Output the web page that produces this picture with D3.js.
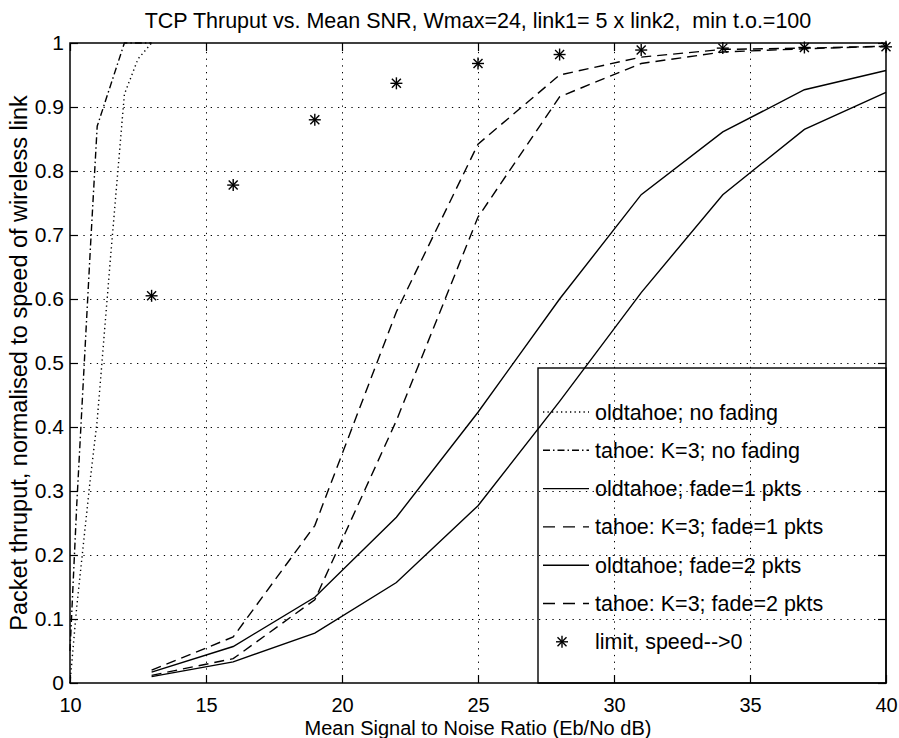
<!DOCTYPE html>
<html>
<head>
<meta charset="utf-8">
<script src="https://cdn.jsdelivr.net/npm/d3@7"></script>
<style>
  body { margin: 0; background: #fff; }
  svg { font-family: "Liberation Sans", Arial, Helvetica, sans-serif; }
  .grid line { stroke: #000; stroke-width: 1; stroke-dasharray: 1.3, 5.4; }
  .grid path { display: none; }
  .axis path { display: none; }
  .axis line { stroke: #000; stroke-width: 1.2; }
  .axis text { fill: #000; }
  .curve { fill: none; stroke: #000; stroke-width: 1.4; }
</style>
</head>
<body>
<svg class="chart" width="899" height="738"></svg>
<script>
// SNR points (Eb/No dB)
var snrFine = [10, 10.25, 10.5, 10.75, 11, 11.5, 12, 12.5, 13];
var snrCoarse = [13, 16, 19, 22, 25, 28, 31, 34, 37, 40];

// no fading (read on snrFine)
var oldtahoeNoFade = [0.0, 0.12, 0.22, 0.32, 0.41, 0.67, 0.92, 0.975, 1.0];
var tahoeNoFade = [0.05, 0.28, 0.48, 0.68, 0.87, 0.935, 1.0, 1.0, 1.0];

// fading (read on snrCoarse)
var oldtahoeFade1 = [0.017, 0.057, 0.134, 0.259, 0.423, 0.6, 0.763, 0.861, 0.927, 0.957];
var tahoeFade1 = [0.02, 0.072, 0.246, 0.58, 0.842, 0.95, 0.978, 0.99, 0.992, 0.995];
var oldtahoeFade2 = [0.01, 0.033, 0.078, 0.157, 0.277, 0.44, 0.61, 0.763, 0.865, 0.923];
var tahoeFade2 = [0.012, 0.038, 0.13, 0.41, 0.728, 0.916, 0.968, 0.986, 0.991, 0.995];
var limitSpeed0 = [0.605, 0.778, 0.88, 0.937, 0.968, 0.982, 0.989, 0.992, 0.993, 0.994];

var xTicks = [10, 15, 20, 25, 30, 35, 40];
var yTicks = [0, 0.1, 0.2, 0.3, 0.4, 0.5, 0.6, 0.7, 0.8, 0.9, 1];
var yTickLabels = ["0", "0.1", "0.2", "0.3", "0.4", "0.5", "0.6", "0.7", "0.8", "0.9", "1"];

var legendLabels = [
  "oldtahoe; no fading",
  "tahoe: K=3; no fading",
  "oldtahoe; fade=1 pkts",
  "tahoe: K=3; fade=1 pkts",
  "oldtahoe; fade=2 pkts",
  "tahoe: K=3; fade=2 pkts",
  "limit, speed-->0"
];

var svg = d3.select(".chart"),
  margin = { top: 43, right: 13, bottom: 55, left: 70 },
  width = +svg.attr("width") - margin.left - margin.right,
  height = +svg.attr("height") - margin.top - margin.bottom,
  g = svg
    .append("g")
    .attr("transform", "translate(" + margin.left + "," + margin.top + ")");

var x = d3.scaleLinear().domain([10, 40]).range([0, width]);
var y = d3.scaleLinear().domain([0, 1]).range([height, 0]);

// line styles: dotted, dash-dot, solid, dashed, solid, dashed
var series = [
  { xs: snrFine, ys: oldtahoeNoFade, dash: "1.3,3.2" },
  { xs: snrFine, ys: tahoeNoFade, dash: "7,3,1.5,3" },
  { xs: snrCoarse, ys: oldtahoeFade1, dash: null },
  { xs: snrCoarse, ys: tahoeFade1, dash: "10,6" },
  { xs: snrCoarse, ys: oldtahoeFade2, dash: null },
  { xs: snrCoarse, ys: tahoeFade2, dash: "10,6" }
];

// grid
g.append("g")
  .attr("class", "grid")
  .attr("transform", "translate(0," + height + ")")
  .call(d3.axisBottom(x).tickValues(xTicks.slice(1, -1)).tickSize(-height).tickFormat(""));

g.append("g")
  .attr("class", "grid")
  .call(d3.axisLeft(y).tickValues(yTicks.slice(1, -1)).tickSize(-width).tickFormat(""));

// curves
var line = d3.line()
  .x(function (d) { return x(d[0]); })
  .y(function (d) { return y(d[1]); });

g.append("g")
  .selectAll("path")
  .data(series)
  .enter()
  .append("path")
  .attr("class", "curve")
  .attr("stroke-dasharray", function (d) { return d.dash; })
  .attr("d", function (d) { return line(d3.zip(d.xs, d.ys)); });

// asterisk markers
function asterisk(sel, r) {
  sel.append("line").attr("x1", -r).attr("x2", r).attr("y1", 0).attr("y2", 0);
  sel.append("line").attr("x1", 0).attr("x2", 0).attr("y1", -r).attr("y2", r);
  sel.append("line").attr("x1", -r * 0.75).attr("x2", r * 0.75).attr("y1", -r * 0.75).attr("y2", r * 0.75);
  sel.append("line").attr("x1", -r * 0.75).attr("x2", r * 0.75).attr("y1", r * 0.75).attr("y2", -r * 0.75);
}

g.append("g")
  .attr("stroke", "#000")
  .attr("stroke-width", 1.4)
  .selectAll("g")
  .data(d3.zip(snrCoarse, limitSpeed0))
  .enter()
  .append("g")
  .attr("transform", function (d) { return "translate(" + x(d[0]) + "," + y(d[1]) + ")"; })
  .each(function () { asterisk(d3.select(this), 6); });

// axes with inward ticks
g.append("g")
  .attr("class", "axis")
  .attr("transform", "translate(0," + height + ")")
  .attr("font-size", 20)
  .call(d3.axisBottom(x).tickValues(xTicks).tickSizeInner(-8).tickSizeOuter(0).tickPadding(15).tickFormat(d3.format("d")))
  .call(function (ax) { ax.selectAll("text").attr("font-size", 20); });

g.append("g")
  .attr("class", "axis")
  .call(d3.axisLeft(y).tickValues(yTicks).tickSizeInner(-8).tickSizeOuter(0).tickPadding(6)
    .tickFormat(function (d, i) { return yTickLabels[i]; }))
  .call(function (ax) { ax.selectAll("text").attr("font-size", 21).attr("dy", "0.3em"); });

g.append("g")
  .attr("class", "axis")
  .call(d3.axisTop(x).tickValues(xTicks).tickSizeInner(-8).tickSizeOuter(0).tickFormat(""));

g.append("g")
  .attr("class", "axis")
  .attr("transform", "translate(" + width + ",0)")
  .call(d3.axisRight(y).tickValues(yTicks).tickSizeInner(-8).tickSizeOuter(0).tickFormat(""));

g.append("rect")
  .attr("width", width)
  .attr("height", height)
  .attr("fill", "none")
  .attr("stroke", "#000")
  .attr("stroke-width", 1.5);

// legend (transparent box)
var lgX = 468, lgY = 325;
g.append("rect")
  .attr("x", lgX)
  .attr("y", lgY)
  .attr("width", width - lgX)
  .attr("height", height - lgY)
  .attr("fill", "none")
  .attr("stroke", "#000")
  .attr("stroke-width", 1.4);

var legend = g.append("g")
  .selectAll("g")
  .data(legendLabels)
  .enter()
  .append("g")
  .attr("transform", function (d, i) { return "translate(" + lgX + "," + (lgY + 44 + i * 38.3) + ")"; });

legend.filter(function (d, i) { return i < series.length; })
  .append("line")
  .attr("x1", 5)
  .attr("x2", 51)
  .attr("stroke", "#000")
  .attr("stroke-width", 1.4)
  .attr("stroke-dasharray", function (d, i) { return series[i].dash === "10,6" ? "12,8" : series[i].dash; });

legend.filter(function (d, i) { return i === series.length; })
  .append("g")
  .attr("transform", "translate(24,0)")
  .attr("stroke", "#000")
  .attr("stroke-width", 1.4)
  .each(function () { asterisk(d3.select(this), 6); });

legend.append("text")
  .attr("x", 57)
  .attr("dy", "0.35em")
  .attr("font-size", 21.5)
  .text(function (d) { return d; });

// titles
svg.append("text")
  .attr("x", margin.left + width / 2)
  .attr("y", 28)
  .attr("text-anchor", "middle")
  .attr("font-size", 21.5)
  .style("white-space", "pre")
  .text("TCP Thruput vs. Mean SNR, Wmax=24, link1= 5 x link2,  min t.o.=100");

svg.append("text")
  .attr("x", margin.left + width / 2)
  .attr("y", 734.5)
  .attr("text-anchor", "middle")
  .attr("font-size", 20)
  .text("Mean Signal to Noise Ratio (Eb/No dB)");

svg.append("text")
  .attr("transform", "translate(27," + (margin.top + height / 2) + ") rotate(-90)")
  .attr("text-anchor", "middle")
  .attr("font-size", 23.5)
  .text("Packet thruput, normalised to speed of wireless link");
</script>
</body>
</html>
